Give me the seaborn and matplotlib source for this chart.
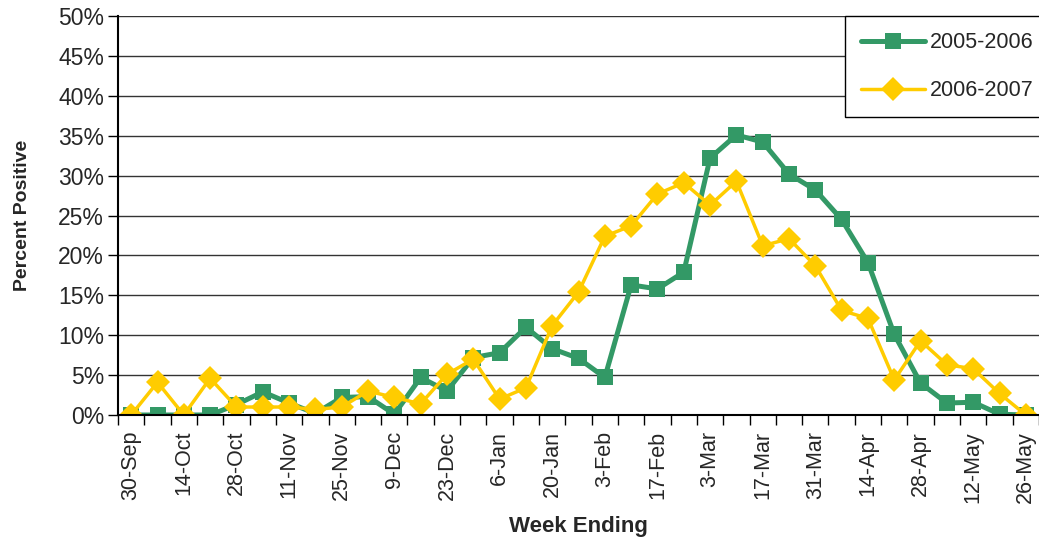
import numpy as np
import pandas as pd
import matplotlib
matplotlib.use("Agg")
import matplotlib.pyplot as plt
from matplotlib.ticker import FuncFormatter
import seaborn as sns

# week index (weekly, 30-Sep .. 26-May)
week = list(range(35))
tick_labels = ["30-Sep", "14-Oct", "28-Oct", "11-Nov", "25-Nov", "9-Dec", "23-Dec",
               "6-Jan", "20-Jan", "3-Feb", "17-Feb", "3-Mar", "17-Mar", "31-Mar",
               "14-Apr", "28-Apr", "12-May", "26-May"]

pct_2005_2006 = [0, 0, 0, 0, 1.3, 2.9, 1.5, 0.2, 2.2, 2.3, 0.1, 4.7, 3.0, 7.2, 7.8,
                 11.0, 8.3, 7.1, 4.7, 16.3, 15.8, 17.9, 32.2, 35.1, 34.2, 30.2, 28.2,
                 24.5, 19.1, 10.1, 4.0, 1.5, 1.6, 0.1, 0]
pct_2006_2007 = [0, 4.1, 0, 4.6, 1.0, 1.0, 1.0, 0.7, 1.0, 3.0, 2.2, 1.4, 5.1, 7.0, 2.0,
                 3.4, 11.2, 15.4, 22.4, 23.7, 27.7, 29.1, 26.3, 29.3, 21.2, 22.1, 18.7,
                 13.1, 12.1, 4.4, 9.3, 6.3, 5.8, 2.7, 0]

sns.set_style("white")
plt.rcParams['font.family'] = ['Liberation Sans', 'DejaVu Sans']

df = pd.DataFrame({"week": week, "2005-2006": pct_2005_2006, "2006-2007": pct_2006_2007})

fig = plt.figure(figsize=(10.39, 5.41), dpi=100)
ax = fig.add_axes([0.1136, 0.2329, 0.8864, 0.7375])

for y in np.arange(5, 55, 5):
    ax.axhline(y, color="#333333", lw=1, zorder=0)

sns.lineplot(data=df, x="week", y="2005-2006", ax=ax, color="#339966", lw=3.6,
             marker="s", markersize=12, markeredgewidth=0, label="2005-2006")
sns.lineplot(data=df, x="week", y="2006-2007", ax=ax, color="#FFCC00", lw=2.5,
             marker="D", markersize=12.5, markeredgewidth=0, label="2006-2007")

ax.set_xlim(-0.5, 34.5)
ax.set_ylim(0, 50)
ax.set_yticks(np.arange(0, 55, 5))
ax.yaxis.set_major_formatter(FuncFormatter(lambda v, p: f"{v:.0f}%"))
ax.set_xticks(week[::2])
ax.set_xticklabels(tick_labels, rotation=90)
ax.set_xticks(np.arange(-0.5, 35, 1), minor=True)

ax.tick_params(axis="y", which="major", left=True, length=7, width=1, color="black",
               labelsize=16.5, pad=3)
ax.tick_params(axis="x", which="major", bottom=False, labelsize=15.5, pad=8)
ax.tick_params(axis="x", which="minor", bottom=True, length=7, width=1, color="black")

for s in ["top", "right"]:
    ax.spines[s].set_visible(False)
for s in ["left", "bottom"]:
    ax.spines[s].set_color("black")
    ax.spines[s].set_linewidth(1.5)

ax.set_ylabel("Percent Positive", fontsize=14, fontweight="bold")
ax.set_xlabel("Week Ending", fontsize=16, fontweight="bold")
ax.yaxis.set_label_coords(-0.095, 0.5)
ax.xaxis.set_label_coords(0.5, -0.252)

leg = ax.legend(loc="upper left", bbox_to_anchor=(0.813, 0.9704),
                bbox_transform=fig.transFigure, fontsize=15.5, frameon=True,
                fancybox=False, edgecolor="black", framealpha=1,
                handlelength=3.0, borderpad=0.75, labelspacing=1.25, handletextpad=0.2,
                borderaxespad=0)
leg.get_frame().set_linewidth(1)

fig.savefig("out.png", dpi=100)
